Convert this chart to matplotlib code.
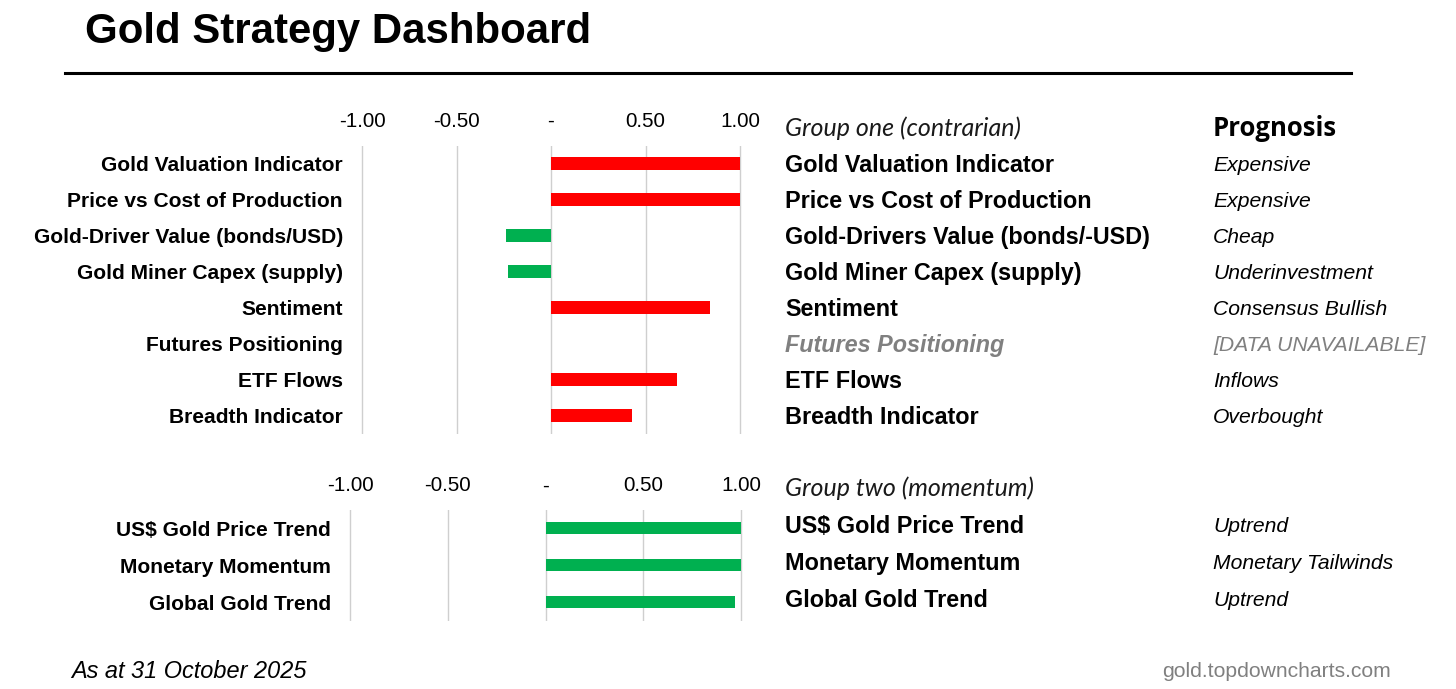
import matplotlib
matplotlib.use("Agg")
import matplotlib.pyplot as plt
import matplotlib.transforms as mtransforms
from matplotlib.lines import Line2D
import numpy as np

# ---------------- data ----------------
title = "Gold Strategy Dashboard"
tick_values = [-1.0, -0.5, 0.0, 0.5, 1.0]
tick_labels = ["-1.00", "-0.50", "-", "0.50", "1.00"]

g1_header = "Group one (contrarian)"
g1_left = ["Gold Valuation Indicator", "Price vs Cost of Production",
           "Gold-Driver Value (bonds/USD)", "Gold Miner Capex (supply)",
           "Sentiment", "Futures Positioning", "ETF Flows", "Breadth Indicator"]
g1_right = ["Gold Valuation Indicator", "Price vs Cost of Production",
            "Gold-Drivers Value (bonds/-USD)", "Gold Miner Capex (supply)",
            "Sentiment", "Futures Positioning", "ETF Flows", "Breadth Indicator"]
g1_values = [1.00, 1.00, -0.24, -0.23, 0.84, 0.0, 0.665, 0.43]
g1_available = [True, True, True, True, True, False, True, True]
g1_prognosis = ["Expensive", "Expensive", "Cheap", "Underinvestment",
                "Consensus Bullish", "[DATA UNAVAILABLE]", "Inflows", "Overbought"]

g2_header = "Group two (momentum)"
g2_left = ["US$ Gold Price Trend", "Monetary Momentum", "Global Gold Trend"]
g2_right = ["US$ Gold Price Trend", "Monetary Momentum", "Global Gold Trend"]
g2_values = [1.00, 1.00, 0.97]
g2_prognosis = ["Uptrend", "Monetary Tailwinds", "Uptrend"]

prognosis_header = "Prognosis"
footer = "As at 31 October 2025"
source = "gold.topdowncharts.com"

# ---------------- style ----------------
RED = "#FF0000"
GREEN = "#00B050"
GRID = "#CFCFCF"
GREY = "#808080"
SANS = "Liberation Sans"
HUM = "Lato"
HEAD = "Open Sans"

W, H, DPI = 1456, 689, 100
fig = plt.figure(figsize=(W / DPI, H / DPI), dpi=DPI)
fig.patch.set_facecolor("white")
renderer = fig.canvas.get_renderer()


def fit(s, target, **kw):
    t = fig.text(0, 0, s, fontsize=20, **kw)
    w = t.get_window_extent(renderer).width
    t.remove()
    return 20 * target / w


def fx(x):
    return x / W


def fy(y):
    return 1 - y / H


fs_title = fit(title, 505, family=SANS, weight="bold")
fs_tick = fit("-1.00", 47, family=SANS)
fs_left = fit("Price vs Cost of Production", 275, family=SANS, weight="bold")
fs_right = fit("Price vs Cost of Production", 307, family=SANS, weight="bold")
fs_group = fit(g1_header, 236, family=HUM, style="italic")
fs_phead = fit(prognosis_header, 124, family=HEAD, weight="bold")
fs_prog = fit("Underinvestment", 159, family=SANS, style="italic")
fs_foot = fit(footer, 235, family=SANS, style="italic")
fs_url = fit(source, 228, family=SANS)

XPAD = 0.01


def make_axes(x_m1, x_p1, y_top, y_bot):
    scale = (x_p1 - x_m1) / 2.0
    left = x_m1 - XPAD * scale
    right = x_p1 + XPAD * scale
    return fig.add_axes([left / W, 1 - y_bot / H, (right - left) / W, (y_bot - y_top) / H])


def draw_group(ax, labels, values, colors, bar_h):
    y = np.arange(len(values))
    ax.barh(y, values, height=bar_h, color=colors, zorder=3)
    ax.set_xlim(-1 - XPAD, 1 + XPAD)
    ax.set_ylim(len(values) - 0.5, -0.5)
    ax.set_xticks(tick_values)
    ax.set_xticklabels(tick_labels, family=SANS, fontsize=fs_tick, color="black")
    ax.xaxis.tick_top()
    ax.tick_params(axis="x", length=0, pad=10.5)
    ax.set_yticks(y)
    ax.set_yticklabels(labels, family=SANS, weight="bold", fontsize=fs_left, color="black")
    ax.tick_params(axis="y", length=0, pad=12.4)
    ax.grid(axis="x", color=GRID, lw=1.0, zorder=0)
    ax.grid(axis="y", visible=False)
    ax.set_axisbelow(True)
    for s in ax.spines.values():
        s.set_visible(False)
    ax.set_facecolor("none")


ax1 = make_axes(362, 740, 145.5, 433.5)
g1_colors = [RED if v > 0 else GREEN for v in g1_values]
draw_group(ax1, g1_left, g1_values, g1_colors, 0.35)

ax2 = make_axes(350, 741, 510, 620.5)
g2_colors = [GREEN for v in g2_values]
draw_group(ax2, g2_left, g2_values, g2_colors, 0.33)


def row_text(ax, xpix, row, s, fs, shift=0.0, **kw):
    cap = 0.716 * fs * DPI / 72.0
    trans = mtransforms.blended_transform_factory(fig.transFigure, ax.transData)
    trans = mtransforms.offset_copy(trans, fig=fig, x=0, y=-cap / 2 + shift, units="dots")
    fig.text(xpix / W, row, s, transform=trans, fontsize=fs, va="baseline", ha="left", **kw)


for i, (lab, prog, ok) in enumerate(zip(g1_right, g1_prognosis, g1_available)):
    if ok:
        row_text(ax1, 785, i, lab, fs_right, family=SANS, weight="bold", color="black")
        row_text(ax1, 1213, i, prog, fs_prog, family=SANS, style="italic", color="black")
    else:
        row_text(ax1, 785, i, lab, fs_right, family=SANS, weight="bold", style="italic", color=GREY)
        row_text(ax1, 1213, i, prog, fs_prog, family=SANS, style="italic", color=GREY)

for i, (lab, prog) in enumerate(zip(g2_right, g2_prognosis)):
    row_text(ax2, 785, i, lab, fs_right, shift=3.5, family=SANS, weight="bold", color="black")
    row_text(ax2, 1213, i, prog, fs_prog, shift=3.5, family=SANS, style="italic", color="black")

# headers, title, footer
fig.text(fx(85), fy(43), title, family=SANS, weight="bold", fontsize=fs_title, va="baseline", ha="left")
fig.add_artist(Line2D([fx(65), fx(1351)], [fy(73), fy(73)], transform=fig.transFigure, color="black", lw=2.2))
fig.text(fx(785), fy(136), g1_header, family=HUM, style="italic", fontsize=fs_group, va="baseline", color="#1a1a1a")
fig.text(fx(1213), fy(136), prognosis_header, family=HEAD, weight="bold", fontsize=fs_phead, va="baseline", color="black")
fig.text(fx(785), fy(496), g2_header, family=HUM, style="italic", fontsize=fs_group, va="baseline", color="#1a1a1a")
fig.text(fx(71), fy(678), footer, family=SANS, style="italic", fontsize=fs_foot, va="baseline", color="black")
fig.text(fx(1391), fy(677), source, family=SANS, fontsize=fs_url, va="baseline", ha="right", color=GREY)

fig.savefig("out.png", dpi=DPI, facecolor="white")
